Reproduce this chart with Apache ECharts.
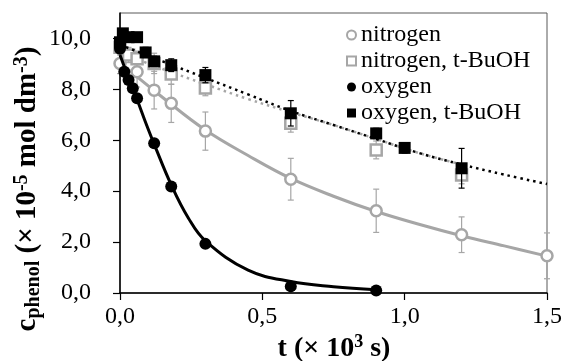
<!DOCTYPE html>
<html><head><meta charset="utf-8">
<script src="https://cdn.jsdelivr.net/npm/echarts@6/dist/echarts.min.js"></script>
<style>html,body{margin:0;padding:0;background:#fff}#c{width:567px;height:361px}</style>
</head><body><div id="c"></div>
<script>
// ---- tick values ----
const xTicks = [0, 0.5, 1.0, 1.5];
const yTicks = [0, 2, 4, 6, 8, 10];

// ---- nitrogen (gray open circles) ----
const n2T = [0, 0.06, 0.12, 0.18, 0.3, 0.6, 0.9, 1.2, 1.5];
const n2V = [9.02, 8.69, 7.97, 7.45, 6.36, 4.47, 3.23, 2.29, 1.46];
const n2E = [0.4, 0.6, 0.74, 0.75, 0.75, 0.82, 0.85, 0.7, 0.9];

// ---- nitrogen, t-BuOH (gray open squares) ----
const n2bT = [0, 0.03, 0.06, 0.12, 0.18, 0.3, 0.6, 0.9, 1.2];
const n2bV = [9.65, 9.35, 9.2, 9.02, 8.6, 8.05, 6.67, 5.62, 4.64];
const n2bE = [0.3, 0.3, 0.3, 0.4, 0.4, 0.3, 0.35, 0.35, 0.35];

// ---- oxygen (black filled circles) ----
const o2T = [0, 0.015, 0.03, 0.045, 0.06, 0.12, 0.18, 0.3, 0.6, 0.9];
const o2V = [9.6, 8.69, 8.37, 8.04, 7.65, 5.88, 4.18, 1.93, 0.26, 0.1];

// ---- oxygen, t-BuOH (black filled squares) ----
const o2bT = [0, 0.01, 0.03, 0.06, 0.09, 0.12, 0.18, 0.3, 0.6, 0.9, 1.0, 1.2];
const o2bV = [9.85, 10.2, 10.05, 10.05, 9.45, 9.1, 8.95, 8.56, 7.06, 6.27, 5.7, 4.9];
const o2bE = [0.15, 0.15, 0.15, 0.15, 0.2, 0.2, 0.25, 0.3, 0.5, 0.2, 0.2, 0.78];

// ---- fitted curves ----
const n2FitT = [0, 0.15, 0.3, 0.45, 0.6, 0.75, 0.9, 1.05, 1.2, 1.35, 1.5];
const n2FitV = [9.05, 7.68, 6.4, 5.4, 4.5, 3.8, 3.2, 2.7, 2.25, 1.85, 1.45];
const n2bFitT = [0, 0.15, 0.3, 0.45, 0.6, 0.75, 0.9, 1.05, 1.2];
const n2bFitV = [9.45, 8.8, 8.2, 7.62, 7.1, 6.6, 6.05, 5.5, 5.05];
const o2FitT = [0, 0.03, 0.06, 0.09, 0.12, 0.18, 0.24, 0.3, 0.45, 0.6, 0.75, 0.9];
const o2FitV = [9.35, 8.45, 7.6, 6.7, 5.85, 4.25, 2.95, 2.05, 0.9, 0.45, 0.25, 0.13];
const o2bFitT = [0, 0.15, 0.3, 0.45, 0.6, 0.75, 0.9, 1.05, 1.2, 1.35, 1.5];
const o2bFitV = [9.75, 9.1, 8.45, 7.8, 7.15, 6.6, 6.05, 5.5, 5.05, 4.65, 4.28];

const GRAY = '#a6a6a6';
const BLACK = '#000000';
const FONT = '"Liberation Serif", "Times New Roman", serif';

function pairs(t, v) { return t.map((x, i) => [x, v[i]]); }
function triples(t, v, e) { return t.map((x, i) => [x, v[i], e[i]]); }
function fmt(v) { return v.toFixed(1).replace('.', ','); }

function errRender(color) {
  return function (params, api) {
    const x = api.value(0), y = api.value(1), e = api.value(2);
    const top = api.coord([x, y + e]), bot = api.coord([x, y - e]);
    const w = 3;
    const st = { stroke: color, lineWidth: 1.2 };
    return { type: 'group', children: [
      { type: 'line', shape: { x1: top[0], y1: top[1], x2: bot[0], y2: bot[1] }, style: st },
      { type: 'line', shape: { x1: top[0] - w, y1: top[1], x2: top[0] + w, y2: top[1] }, style: st },
      { type: 'line', shape: { x1: bot[0] - w, y1: bot[1], x2: bot[0] + w, y2: bot[1] }, style: st }
    ]};
  };
}

const chart = echarts.init(document.getElementById('c'), null, { renderer: 'canvas' });
chart.setOption({
  animation: false,
  backgroundColor: '#fff',
  textStyle: { fontFamily: FONT },
  grid: { left: 120, right: 20, top: 13, bottom: 68, show: true, borderColor: '#595959', borderWidth: 1 },
  xAxis: {
    type: 'value', min: 0, max: 1.5, interval: 0.5,
    axisLine: { show: true, onZero: false, lineStyle: { color: '#000', width: 1.5 } },
    axisTick: { show: true, inside: false, length: 7, lineStyle: { color: '#000', width: 1.2 }, customValues: xTicks },
    axisLabel: { customValues: xTicks, formatter: fmt, fontFamily: FONT, fontSize: 24, color: '#000', margin: 12 },
    splitLine: { show: false }
  },
  yAxis: {
    type: 'value', min: 0, max: 11, interval: 2,
    axisLine: { show: true, onZero: false, lineStyle: { color: '#000', width: 1.5 } },
    axisTick: { show: true, inside: false, length: 7, lineStyle: { color: '#000', width: 1.2 }, customValues: yTicks },
    axisLabel: { customValues: yTicks, formatter: fmt, fontFamily: FONT, fontSize: 24, color: '#000', margin: 29 },
    splitLine: { show: false }
  },
  legend: {
    left: 341, top: 17, orient: 'vertical', itemGap: 0,
    itemWidth: 9, itemHeight: 9,
    textStyle: { fontFamily: FONT, fontSize: 24, color: '#000', lineHeight: 26 },
    data: ['nitrogen', 'nitrogen, t-BuOH', 'oxygen', 'oxygen, t-BuOH'],
    selectedMode: false
  },
  graphic: [
    { type: 'text', x: 334, y: 348, z: 100,
      style: { text: '{b|t (× 10}{p|3}{b| s)}', align: 'center', verticalAlign: 'middle',
        rich: { b: { fontFamily: FONT, fontWeight: 'bold', fontSize: 28, lineHeight: 30, fill: '#000', verticalAlign: 'bottom' },
                p: { fontFamily: FONT, fontWeight: 'bold', fontSize: 18, lineHeight: 18, fill: '#000', verticalAlign: 'top' } } } },
    { type: 'text', x: 28, y: 189, rotation: Math.PI / 2, z: 100,
      style: { text: '{b|c}{s|phenol}{b| (× 10}{p|-5}{b| mol dm}{p|-3}{b|)}', align: 'center', verticalAlign: 'middle',
        rich: { b: { fontFamily: FONT, fontWeight: 'bold', fontSize: 29, lineHeight: 32, fill: '#000' },
                s: { fontFamily: FONT, fontWeight: 'bold', fontSize: 20, lineHeight: 20, fill: '#000', verticalAlign: 'bottom' },
                p: { fontFamily: FONT, fontWeight: 'bold', fontSize: 20, lineHeight: 20, fill: '#000', verticalAlign: 'top' } } } }
  ],
  series: [
    { type: 'custom', name: 'errN2', renderItem: errRender(GRAY), data: triples(n2T, n2V, n2E), clip: false, z: 2 },
    { type: 'custom', name: 'errN2b', renderItem: errRender(GRAY), data: triples(n2bT, n2bV, n2bE), clip: false, z: 2 },
    { type: 'line', name: 'fitN2', data: pairs(n2FitT, n2FitV), smooth: 0.4, showSymbol: false, symbol: 'none',
      lineStyle: { color: GRAY, width: 3 }, z: 2 },
    { type: 'line', name: 'fitN2b', data: pairs(n2bFitT, n2bFitV), smooth: 0.4, showSymbol: false, symbol: 'none',
      lineStyle: { color: GRAY, width: 2.5, type: [2.5, 4] }, z: 2 },
    { type: 'scatter', name: 'nitrogen', data: pairs(n2T, n2V), symbol: 'circle', symbolSize: 11, clip: false,
      itemStyle: { color: '#fff', borderColor: GRAY, borderWidth: 2.5, opacity: 1 }, z: 3 },
    { type: 'scatter', name: 'nitrogen, t-BuOH', data: pairs(n2bT, n2bV), symbol: 'rect', symbolSize: 11, clip: false,
      itemStyle: { color: '#fff', borderColor: GRAY, borderWidth: 2.5, opacity: 1 }, z: 3 },
    { type: 'custom', name: 'errO2b', renderItem: errRender(BLACK), data: triples(o2bT, o2bV, o2bE), clip: false, z: 4 },
    { type: 'line', name: 'fitO2', data: pairs(o2FitT, o2FitV), smooth: 0.4, showSymbol: false, symbol: 'none',
      lineStyle: { color: BLACK, width: 3 }, z: 4 },
    { type: 'line', name: 'fitO2b', data: pairs(o2bFitT, o2bFitV), smooth: 0.4, showSymbol: false, symbol: 'none',
      lineStyle: { color: BLACK, width: 2.5, type: [2.5, 4] }, z: 4 },
    { type: 'scatter', name: 'oxygen', data: pairs(o2T, o2V), symbol: 'circle', symbolSize: 12, clip: false,
      itemStyle: { color: BLACK, opacity: 1 }, z: 5 },
    { type: 'scatter', name: 'oxygen, t-BuOH', data: pairs(o2bT, o2bV), symbol: 'rect', symbolSize: 12, clip: false,
      itemStyle: { color: BLACK, opacity: 1 }, z: 5 }
  ]
});
</script>
</body></html>
